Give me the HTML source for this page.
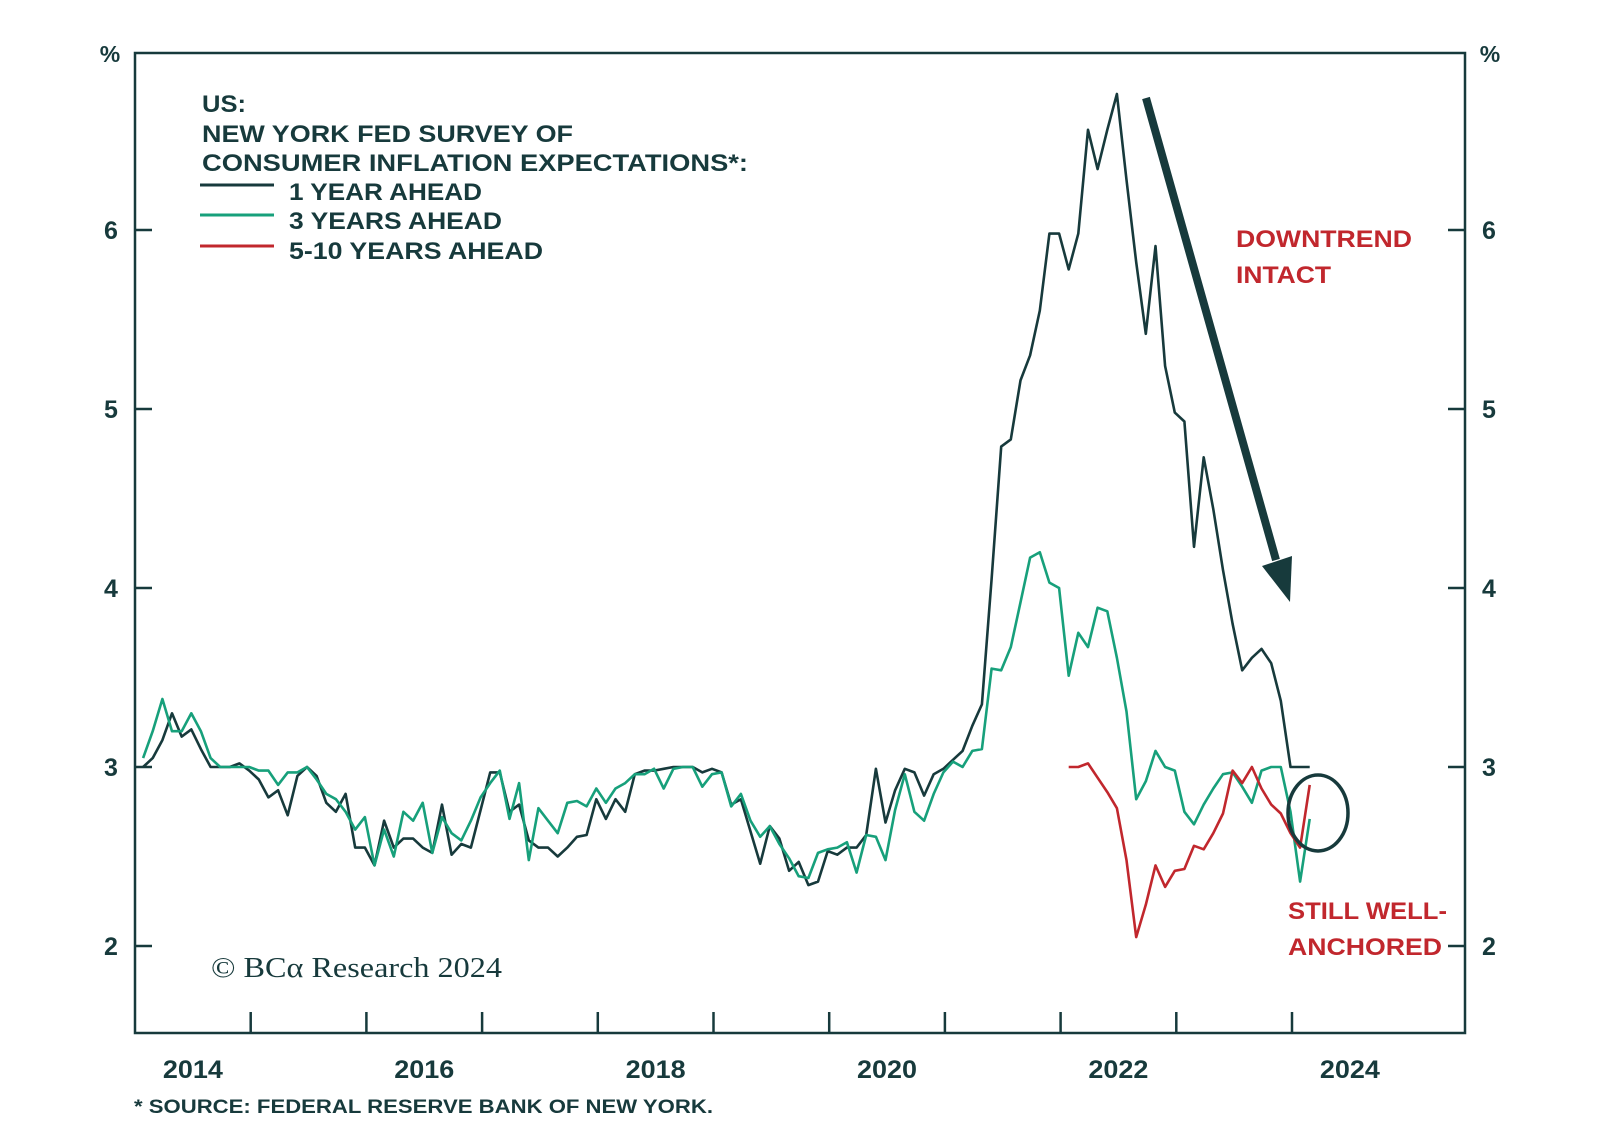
<!DOCTYPE html>
<html><head><meta charset="utf-8"><style>
html,body{margin:0;padding:0;background:#fff;}
svg{display:block;font-family:"Liberation Sans",sans-serif;}
</style></head><body>
<svg id="chart" width="1600" height="1140" viewBox="0 0 1600 1140" xmlns="http://www.w3.org/2000/svg"></svg>
<script>
const startYear = 2014.07;
const oneYearAhead = [3.0,3.05,3.15,3.3,3.17,3.21,3.1,3.0,3.0,3.0,3.02,2.98,2.93,2.83,2.87,2.73,2.95,3.0,2.95,2.8,2.75,2.85,2.55,2.55,2.45,2.7,2.55,2.6,2.6,2.55,
2.52,2.79,2.51,2.57,2.55,2.76,2.97,2.97,2.75,2.79,2.59,2.55,2.55,2.5,2.55,2.61,2.62,2.82,2.71,2.82,2.75,2.96,2.98,2.98,2.99,3.0,3.0,3.0,2.97,
2.99,2.97,2.79,2.82,2.64,2.46,2.67,2.6,2.42,2.47,2.34,2.36,2.53,2.51,2.55,2.55,2.62,2.99,2.69,2.87,2.99,2.97,2.84,2.96,2.99,3.04,3.09,3.23,3.35,
4.05,4.79,4.83,5.16,5.3,5.55,5.98,5.98,5.78,5.98,6.56,6.34,6.56,6.76,6.28,5.82,5.42,5.91,5.24,4.98,4.93,4.23,4.73,4.44,4.1,3.8,3.54,3.61,3.66,3.58,3.37,3.0,3.0,3.0];
const threeYearsAhead = [3.05,3.2,3.38,3.2,3.2,3.3,3.2,3.05,3.0,3.0,3.0,3.0,2.98,2.98,2.9,2.97,2.97,3.0,2.93,2.85,2.82,2.75,2.65,2.72,2.45,2.65,2.5,2.75,2.7,2.8,
2.52,2.72,2.63,2.59,2.7,2.83,2.91,2.98,2.71,2.91,2.48,2.77,2.7,2.63,2.8,2.81,2.78,2.88,2.8,2.88,2.91,2.96,2.96,2.99,2.88,2.99,3.0,3.0,2.89,
2.96,2.97,2.78,2.85,2.7,2.61,2.67,2.57,2.49,2.39,2.38,2.52,2.54,2.55,2.58,2.41,2.62,2.61,2.48,2.76,2.96,2.75,2.7,2.85,2.97,3.03,3.0,3.09,3.1,
3.55,3.54,3.67,3.92,4.17,4.2,4.03,4.0,3.51,3.75,3.67,3.89,3.87,3.61,3.31,2.82,2.92,3.09,3.0,2.98,2.75,2.68,2.79,2.88,2.96,2.97,2.89,2.8,2.98,3.0,3.0,2.75,2.36,2.71];
const fiveTenStartIndex = 96;
const fiveTenYearsAhead = [3.0,3.0,3.02,2.94,2.86,2.77,2.48,2.05,2.23,2.45,2.33,2.42,2.43,2.56,2.54,2.63,2.74,2.98,2.91,3.0,2.88,2.79,2.74,2.63,2.55,2.9];
const yTicks = [2,3,4,5,6];
const xTickYears = [2015,2016,2017,2018,2019,2020,2021,2022,2023,2024];
const xLabelYears = [2014,2016,2018,2020,2022,2024];

const NS="http://www.w3.org/2000/svg";
const svg=document.getElementById('chart');
const L=135,R=1465,T=53,B=1033;
const xScale=t=>L+(t-2014)*115.7;
const yScale=v=>767-(v-3)*179;
const dateOf=i=>startYear+i/12;
function el(tag,attrs,parent){const e=document.createElementNS(NS,tag);for(const k in attrs)e.setAttribute(k,attrs[k]);(parent||svg).appendChild(e);return e;}
function txt(s,attrs,parent){const e=el('text',attrs,parent);e.textContent=s;return e;}
const dark="#173a3c", teal="#17a07b", red="#c1272d";

const frame=el('rect',{x:L,y:T,width:R-L,height:B-T,fill:'none',stroke:dark,'stroke-width':2.5});



yTicks.forEach(v=>{
  const y=yScale(v);
  const tl=el('line',{x1:L,x2:L+17,y1:y,y2:y,stroke:dark,'stroke-width':2.5});
  
  
  const tr=el('line',{x1:R-17,x2:R,y1:y,y2:y,stroke:dark,'stroke-width':2.5});
  
  
  const a=txt(String(v),{x:111,y:y+9,'text-anchor':'middle','font-size':25,'font-weight':'bold',fill:dark});
  
  
  const b=txt(String(v),{x:1489,y:y+9,'text-anchor':'middle','font-size':25,'font-weight':'bold',fill:dark});
  
  
});
const p1=txt('%',{x:110,y:62,'text-anchor':'middle','font-size':23,'font-weight':'bold',fill:dark});


const p2=txt('%',{x:1490,y:62,'text-anchor':'middle','font-size':23,'font-weight':'bold',fill:dark});



xTickYears.forEach(yr=>{
  const x=xScale(yr);
  const t=el('line',{x1:x,x2:x,y1:B,y2:B-21,stroke:dark,'stroke-width':2.5});
  
  
});
xLabelYears.forEach(yr=>{
  const t=txt(String(yr),{x:xScale(yr+0.5),y:1078,'text-anchor':'middle','font-size':25,'font-weight':'bold',fill:dark,textLength:60,lengthAdjust:'spacingAndGlyphs'});
  
  
});

function pathFrom(vals,offset){return vals.map((v,k)=>(k?'L':'M')+xScale(dateOf(k+offset)).toFixed(1)+','+yScale(v).toFixed(1)).join('');}
const s1=el('path',{d:pathFrom(oneYearAhead,0),fill:'none',stroke:dark,'stroke-width':2.6,'stroke-linejoin':'round'});


const s3=el('path',{d:pathFrom(threeYearsAhead,0),fill:'none',stroke:teal,'stroke-width':2.6,'stroke-linejoin':'round'});


const s5=el('path',{d:pathFrom(fiveTenYearsAhead,fiveTenStartIndex),fill:'none',stroke:red,'stroke-width':2.6,'stroke-linejoin':'round'});



const legendLines=[['US:',112,44],['NEW YORK FED SURVEY OF',142,371],['CONSUMER INFLATION EXPECTATIONS*:',171,546]];
legendLines.forEach(([s,y,w])=>{
  const t=txt(s,{x:202,y:y,'font-size':24,'font-weight':'bold',fill:dark,textLength:w,lengthAdjust:'spacingAndGlyphs'});
  
  
});
const entries=[['1 YEAR AHEAD',dark,185,200,193],['3 YEARS AHEAD',teal,215,229,213],['5-10 YEARS AHEAD',red,246,259,254]];
entries.forEach(([s,c,ly,ty,w])=>{
  const l=el('line',{x1:200,x2:274,y1:ly,y2:ly,stroke:c,'stroke-width':3});
  
  
  const t=txt(s,{x:289,y:ty,'font-size':24,'font-weight':'bold',fill:dark,textLength:w,lengthAdjust:'spacingAndGlyphs'});
  
  
});

[['DOWNTREND',247,176],['INTACT',283,95]].forEach(([s,y,w])=>{
  const t=txt(s,{x:1236,y:y,'font-size':24,'font-weight':'bold',fill:red,textLength:w,lengthAdjust:'spacingAndGlyphs'});
  
  
});
[['STILL WELL-',919,159],['ANCHORED',955,154]].forEach(([s,y,w])=>{
  const t=txt(s,{x:1288,y:y,'font-size':24,'font-weight':'bold',fill:red,textLength:w,lengthAdjust:'spacingAndGlyphs'});
  
  
});
const arr=el('line',{x1:1146,y1:98,x2:1276,y2:560,stroke:dark,'stroke-width':8});


const head=el('polygon',{points:'1290,602 1262,566 1292,556',fill:dark});


const circ=el('ellipse',{cx:1318,cy:813,rx:30,ry:38,fill:'none',stroke:dark,'stroke-width':3.5});



const cr=txt('© BCα Research 2024',{x:211,y:977,'font-size':29,'font-family':'"Liberation Serif",serif',fill:dark,textLength:291,lengthAdjust:'spacingAndGlyphs'});


const fn=txt('*  SOURCE: FEDERAL RESERVE BANK OF NEW YORK.',{x:134,y:1113,'font-size':19,'font-weight':'bold',fill:dark,textLength:579,lengthAdjust:'spacingAndGlyphs'});


</script>
</body></html>
